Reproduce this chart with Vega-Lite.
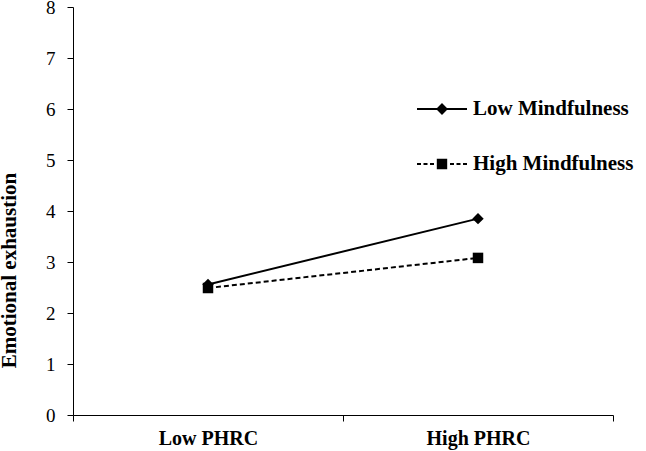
{
  "$schema": "https://vega.github.io/schema/vega-lite/v6.json",
  "width": 540,
  "height": 408,
  "autosize": {"type": "none"},
  "padding": {"left": 73, "top": 7, "right": 33, "bottom": 36},
  "background": "white",
  "config": {"view": {"stroke": null}, "font": "Liberation Serif"},
  "data": {
    "values": [
      {"phrc": "Low PHRC", "group": "Low Mindfulness", "value": 2.56},
      {"phrc": "High PHRC", "group": "Low Mindfulness", "value": 3.85},
      {"phrc": "Low PHRC", "group": "High Mindfulness", "value": 2.49},
      {"phrc": "High PHRC", "group": "High Mindfulness", "value": 3.08}
    ]
  },
  "encoding": {
    "x": {
      "field": "phrc",
      "type": "nominal",
      "sort": ["Low PHRC", "High PHRC"],
      "scale": {"type": "band", "paddingInner": 0, "paddingOuter": 0},
      "axis": {
        "title": null,
        "tickBand": "extent",
        "grid": false,
        "domainColor": "black",
        "tickColor": "black",
        "tickSize": 6,
        "labelFont": "Liberation Serif",
        "labelFontSize": 20,
        "labelFontWeight": "bold",
        "labelColor": "black",
        "labelPadding": 7,
        "labelAngle": 0
      }
    },
    "y": {
      "field": "value",
      "type": "quantitative",
      "scale": {"domain": [0, 8], "nice": false},
      "axis": {
        "values": [0, 1, 2, 3, 4, 5, 6, 7, 8],
        "grid": false,
        "domainColor": "black",
        "tickColor": "black",
        "tickSize": 6,
        "labelFont": "Liberation Serif",
        "labelFontSize": 19,
        "labelColor": "black",
        "labelPadding": 12,
        "title": "Emotional exhaustion",
        "titleFont": "Liberation Serif",
        "titleFontSize": 21,
        "titleFontWeight": "bold",
        "titleColor": "black",
        "titleBaseline": "middle",
        "titleX": -64,
        "titleY": 263
      }
    }
  },
  "layer": [
    {
      "transform": [{"filter": "datum.group === 'Low Mindfulness'"}],
      "mark": {"type": "line", "color": "black", "strokeWidth": 2}
    },
    {
      "transform": [{"filter": "datum.group === 'High Mindfulness'"}],
      "mark": {"type": "line", "color": "black", "strokeWidth": 2, "strokeDash": [5, 3]}
    },
    {
      "mark": {"type": "point", "filled": false, "color": "black", "fill": "black", "stroke": "black", "size": 1, "strokeWidth": 2},
      "encoding": {
        "shape": {
          "field": "group",
          "type": "nominal",
          "scale": {
            "domain": ["Low Mindfulness", "High Mindfulness"],
            "range": [
              "M-2.5,0L2.5,0M0,-0.45L0.45,0L0,0.45L-0.45,0ZM0,-0.25L0.25,0L0,0.25L-0.25,0ZM0,-0.08L0.08,0L0,0.08L-0.08,0Z",
              "M-2.5,0H-2.1M-1.85,0H-1.45M-1.2,0H-0.8M-0.42,-0.42H0.42V0.42H-0.42ZM-0.22,-0.22H0.22V0.22H-0.22ZM-0.06,-0.06H0.06V0.06H-0.06ZM0.8,0H1.2M1.45,0H1.85M2.1,0H2.5"
            ]
          },
          "legend": {
            "orient": "none",
            "legendX": 358,
            "legendY": 91,
            "title": null,
            "symbolSize": 400,
            "symbolOpacity": 1,
            "symbolStrokeWidth": 2,
            "labelFont": "Liberation Serif",
            "labelFontSize": 21,
            "labelFontWeight": "bold",
            "labelColor": "black",
            "labelOffset": 20,
            "labelLimit": 300,
            "rowPadding": 34
          }
        }
      }
    },
    {
      "transform": [{"filter": "datum.group === 'Low Mindfulness'"}],
      "mark": {"type": "point", "shape": "diamond", "size": 130, "filled": true, "color": "black", "opacity": 1}
    },
    {
      "transform": [{"filter": "datum.group === 'High Mindfulness'"}],
      "mark": {"type": "point", "shape": "square", "size": 110, "filled": true, "color": "black", "opacity": 1}
    }
  ]
}
